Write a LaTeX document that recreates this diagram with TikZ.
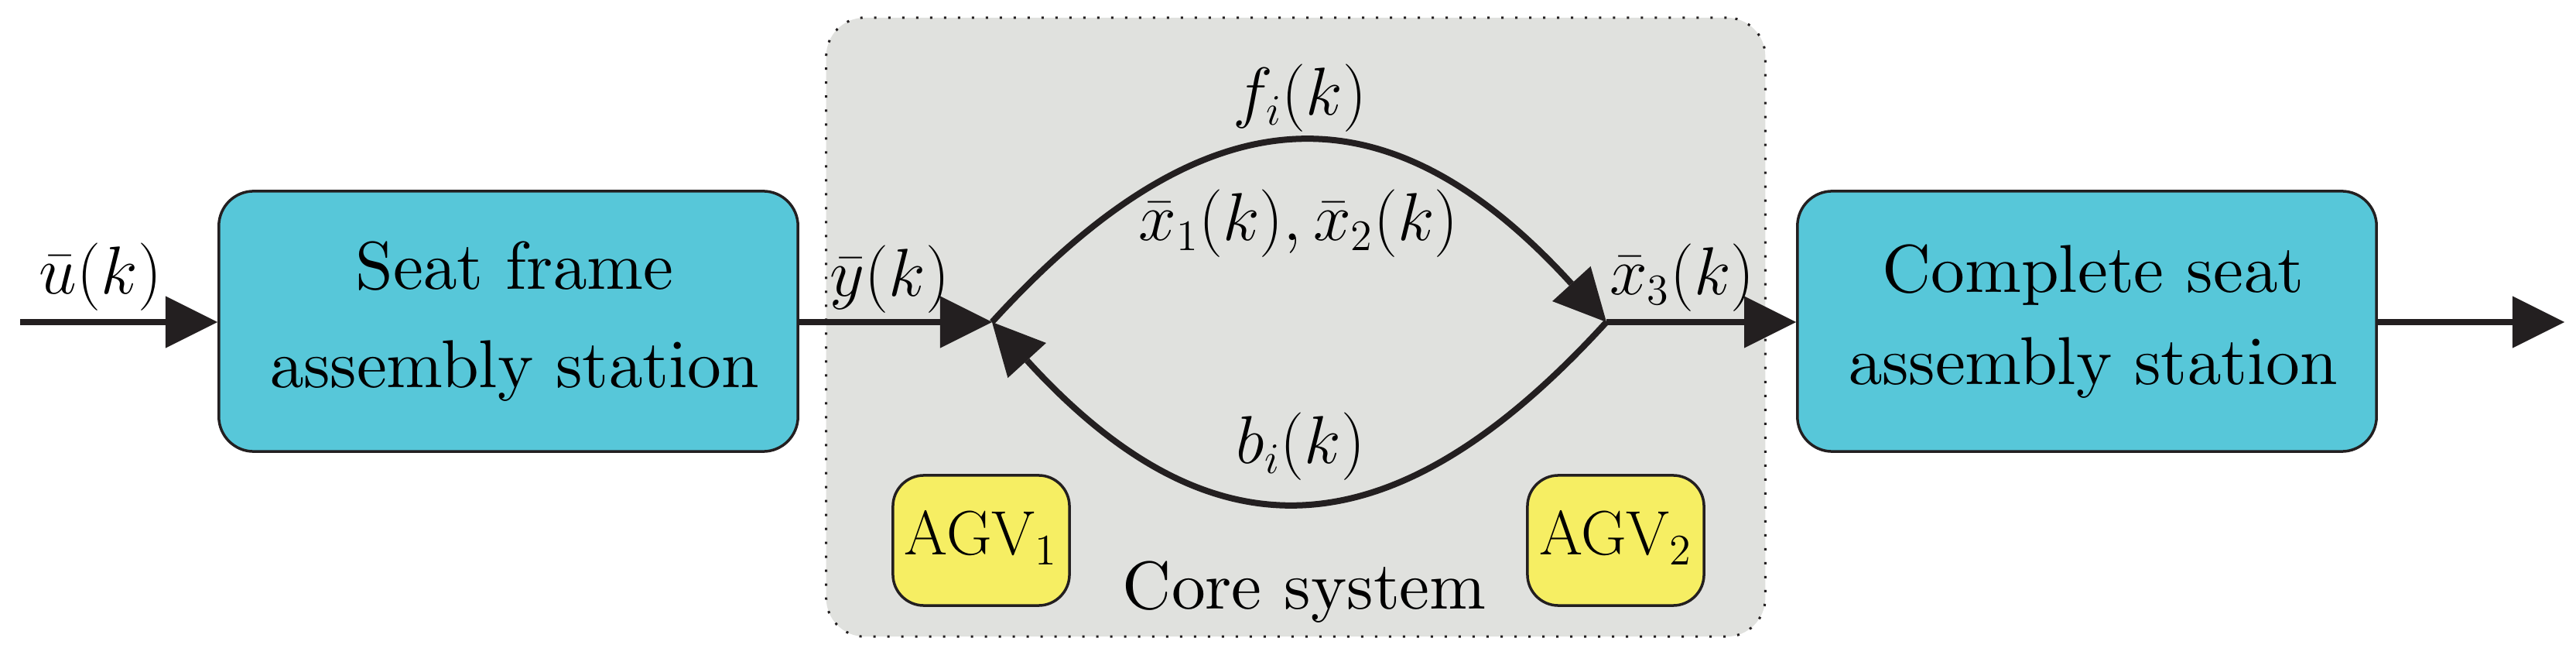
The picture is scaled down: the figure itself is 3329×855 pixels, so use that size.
\RequirePackage{fix-cm}
\documentclass[tikz,border=0pt]{standalone}
\usetikzlibrary{arrows.meta}
\DeclareMathSizes{24.88}{24.88}{16}{12}
\DeclareMathSizes{23}{23}{16}{12}
\DeclareFontFamily{OT1}{mycmr}{}
\DeclareFontShape{OT1}{mycmr}{m}{n}{<-> cmr10}{}
\newcommand\diagfont[1]{\fontencoding{OT1}\fontfamily{mycmr}\fontseries{m}\fontshape{n}\fontsize{24.88}{#1}\selectfont}
\newcommand\agvfont{\normalfont\fontsize{23}{28}\selectfont}
\newcommand\rsh{\hspace*{0.16cm}}
\definecolor{ink}{HTML}{231F20}
\definecolor{stcyan}{HTML}{57C7D9}
\definecolor{agvyellow}{HTML}{F6EE63}
\definecolor{coregray}{HTML}{E0E1DE}
\begin{document}
\begin{tikzpicture}[x=0.01cm,y=-0.01cm,line join=miter,
  lbl/.style={font=\diagfont{30}, inner sep=0pt},
  station/.style={draw=ink, line width=0.035cm, fill=stcyan, rounded corners=0.45cm,
    minimum width=7.48cm, minimum height=3.36cm, align=center, inner sep=0pt},
  agv/.style={draw=ink, line width=0.035cm, fill=agvyellow, rounded corners=0.4cm,
    minimum width=2.28cm, minimum height=1.68cm, inner sep=0pt,
    text height=14.5pt, text depth=3.7pt, font=\agvfont},
  corebox/.style={draw=ink, line width=0.03cm, dash pattern=on 0.03cm off 0.15cm,
    fill=coregray, rounded corners=0.5cm, minimum width=12.13cm, minimum height=7.99cm},
  flow/.style={draw=ink, line width=0.08cm,
    -{Triangle[length=0.67cm,width=0.67cm,line width=0pt]}}
]
\useasboundingbox (0,0) rectangle (3329,855);
\node[corebox] (core) at (1674.5,422.5) {};
\node[station, font=\diagfont{36.3}] (sf) at (657,415) {\rsh Seat frame\\\rsh assembly station};
\node[station, font=\diagfont{34.05}] (cs) at (2697,415) {\rsh Complete seat\\\rsh assembly station};
\node[agv] (agv1) at (1268,698) {AGV$_1$};
\node[agv] (agv2) at (2088,698) {AGV$_2$};
\coordinate (in) at (26,416);
\coordinate (out) at (3314,416);
\coordinate (jl) at (1282,416);
\coordinate (jr) at (2076,416);
\draw[flow] (in) -- (sf.west |- in);
\draw[flow] (sf.east |- jl) -- (jl);
\draw[flow] (jl) .. controls +(280,-307) and +(-280,-307) .. (jr);
\draw[flow] (jr) .. controls +(-280,307) and +(280,307) .. (jl);
\draw[flow] (jr) -- (cs.west |- jr);
\draw[flow] (cs.east |- out) -- (out);
\node[lbl] (u) at (130,358) {$\bar{u}(k)$};
\node[lbl] (y) at (1150,361) {$\bar{y}(k)$};
\node[lbl] (x3) at (2174,359) {$\bar{x}_3(k)$};
\node[lbl] (f) at (1680,127) {$f_i(k)$};
\node[lbl] (x12) at (1678,289) {$\bar{x}_1(k),\bar{x}_2(k)$};
\node[lbl] (b) at (1681,577) {$b_i(k)$};
\node[lbl, anchor=base] (coretext) at (1686,787) {Core system};
\end{tikzpicture}
\end{document}
